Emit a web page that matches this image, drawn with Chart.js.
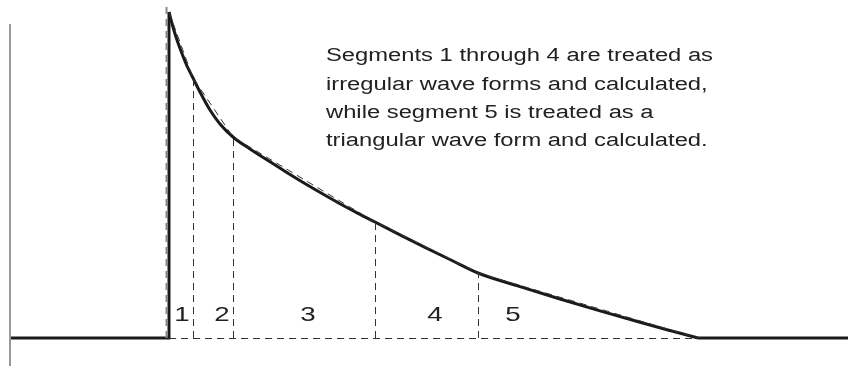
<!DOCTYPE html>
<html>
<head>
<meta charset="utf-8">
<script src="https://cdn.jsdelivr.net/npm/chart.js@4/dist/chart.umd.min.js"></script>
<style>
  html, body { margin: 0; padding: 0; background: #fff; }
  #wrap { width: 850px; height: 372px; }
</style>
</head>
<body>
<div id="wrap"><canvas id="chart"></canvas></div>
<script>
// decaying wave form (x, amplitude)
const curveX = [169, 173, 177, 181, 187, 193, 200, 210, 220, 233,
                250, 268, 286, 304, 322, 340, 358, 375,
                400, 426, 452, 478,
                520, 560, 600, 640, 670, 698];
const curveY = [326, 311, 298, 287, 272, 260, 246, 228, 214, 201,
                189, 177.5, 166, 155, 144.5, 134.3, 124.7, 116,
                103.2, 90.2, 77.5, 65,
                51.4, 39, 27.1, 15.7, 7.5, 0];

// segment boundaries and their amplitudes (used for the dashed chords)
const bounds = [169, 193, 233, 375, 478, 698];
const boundY = [326, 260, 201, 116, 65, 0];

const startX = 169;
const endX = 698;
const leftEdge = 10;
const rightEdge = 848;

const segLabels = ["1", "2", "3", "4", "5"];
const segLabelX = [182, 222, 308, 435, 513];
const segLabelY = 23;

const note = [
  "Segments 1 through 4 are treated as",
  "irregular wave forms and calculated,",
  "while segment 5 is treated as a",
  "triangular wave form and calculated."
];
const noteX = 326;
const noteY = [277, 248, 220, 192];

const pts = (xs, ys) => xs.map((x, i) => ({ x: x, y: ys[i] }));

// keeps thin dashed lines on whole pixels
const half = 0.5;

const dashStyle = {
  showLine: true,
  pointRadius: 0,
  borderColor: "#333",
  borderWidth: 1,
  borderDash: [7, 5],
  fill: false
};

const datasets = [
  // axis line on the left
  { data: [{ x: leftEdge, y: 314 }, { x: leftEdge, y: -28 }], showLine: true, pointRadius: 0, borderColor: "#999", borderWidth: 2 },
  // dashed base and chords
  { ...dashStyle, data: [{ x: startX, y: -half }, { x: endX, y: -half }] },
  { ...dashStyle, borderColor: "#888", borderWidth: 2, data: [{ x: 166.5, y: 0 }, { x: 166.5, y: 331 }] },
  { ...dashStyle, data: pts(bounds, boundY) }
];
for (let i = 1; i < bounds.length - 1; i++) {
  datasets.push({ ...dashStyle, data: [{ x: bounds[i] + half, y: 0 }, { x: bounds[i] + half, y: boundY[i] }] });
}
// solid wave form
datasets.push({
  data: [{ x: leftEdge, y: 0 }, { x: startX, y: 0 }, { x: startX, y: curveY[0] }],
  showLine: true, pointRadius: 0, borderColor: "#1a1a1a", borderWidth: 3
});
datasets.push({
  data: pts(curveX, curveY),
  showLine: true, pointRadius: 0, borderColor: "#1a1a1a", borderWidth: 3,
  cubicInterpolationMode: "monotone"
});
datasets.push({
  data: [{ x: endX, y: 0 }, { x: rightEdge, y: 0 }],
  showLine: true, pointRadius: 0, borderColor: "#1a1a1a", borderWidth: 3
});

// the source text is set wider than normal
const stretch = 1.32;

const textPlugin = {
  id: "texts",
  afterDatasetsDraw(chart) {
    const ctx = chart.ctx;
    const xs = chart.scales.x;
    const ys = chart.scales.y;
    ctx.save();
    ctx.fillStyle = "#222";
    ctx.textBaseline = "alphabetic";
    ctx.textAlign = "left";
    ctx.font = "18px 'Liberation Sans', Arial, sans-serif";
    note.forEach((line, i) => {
      ctx.save();
      ctx.translate(xs.getPixelForValue(noteX), ys.getPixelForValue(noteY[i]));
      ctx.scale(stretch, 1);
      ctx.fillText(line, 0, 0);
      ctx.restore();
    });
    ctx.textAlign = "center";
    ctx.textBaseline = "middle";
    ctx.font = "21px 'Liberation Sans', Arial, sans-serif";
    segLabels.forEach((lab, i) => {
      ctx.save();
      ctx.translate(xs.getPixelForValue(segLabelX[i]), ys.getPixelForValue(segLabelY));
      ctx.scale(stretch, 1);
      ctx.fillText(lab, 0, 0);
      ctx.restore();
    });
    ctx.restore();
  }
};

new Chart(document.getElementById("chart"), {
  type: "scatter",
  data: { datasets: datasets },
  options: {
    responsive: true,
    maintainAspectRatio: false,
    animation: false,
    layout: { padding: 0 },
    plugins: { legend: { display: false }, tooltip: { enabled: false } },
    scales: {
      x: { type: "linear", min: 0, max: 850, display: false },
      y: { type: "linear", min: -34, max: 338, display: false }
    }
  },
  plugins: [textPlugin]
});
</script>
</body>
</html>
